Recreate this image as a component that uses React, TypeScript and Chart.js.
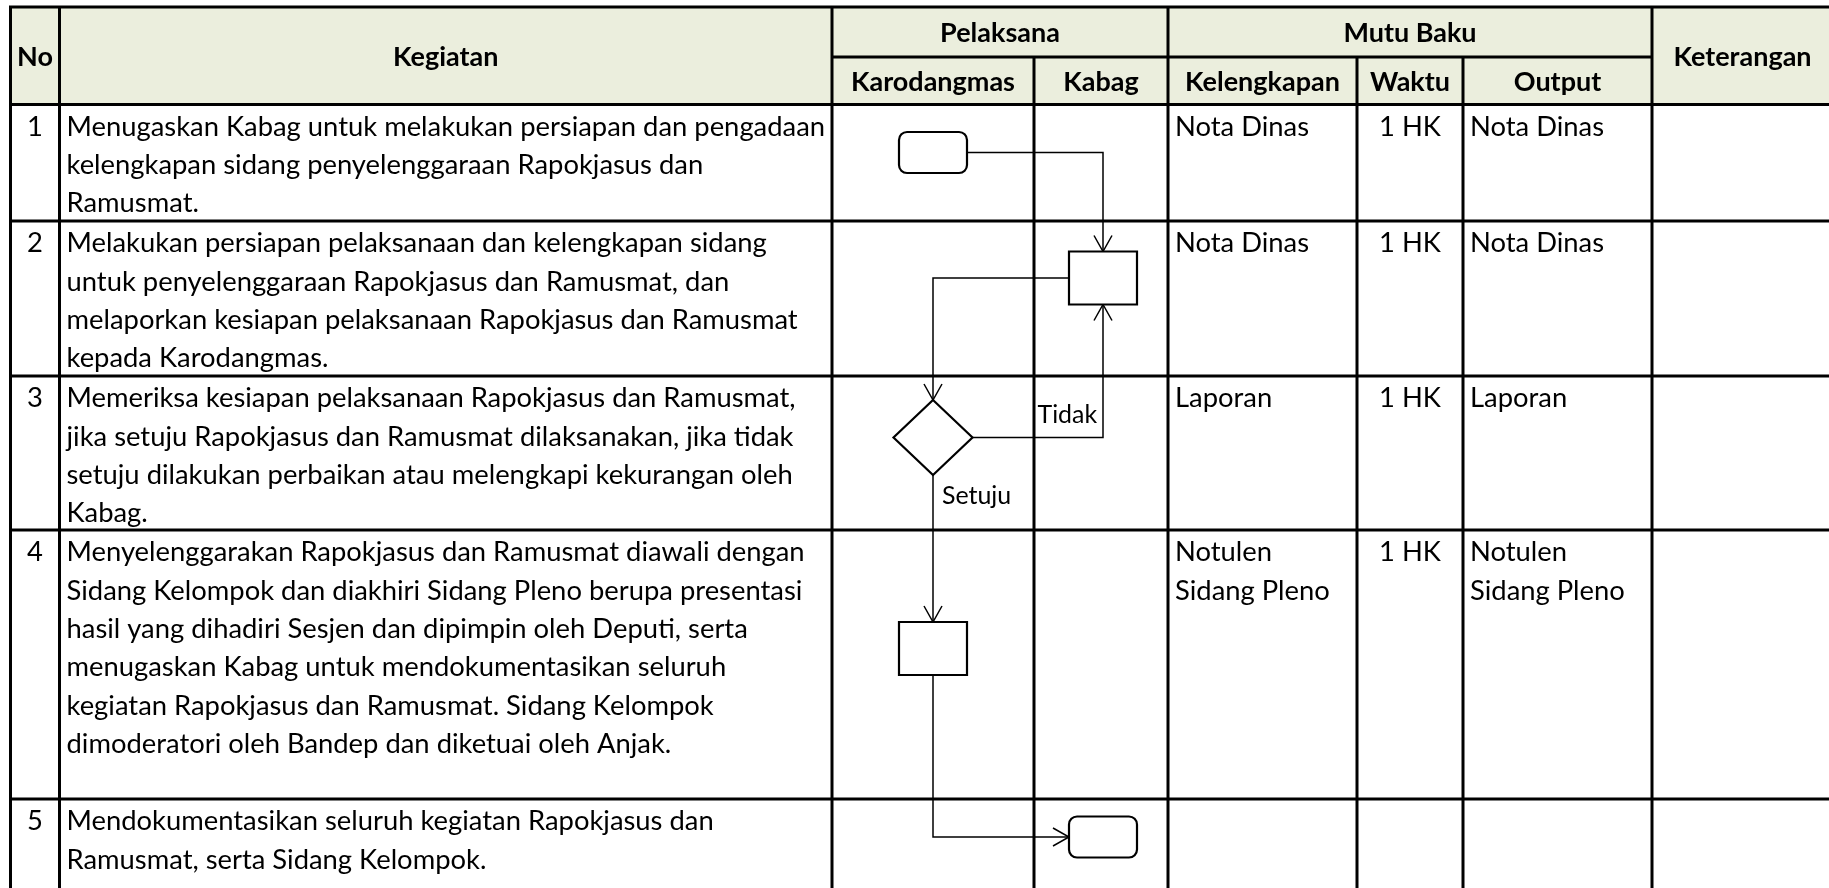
import React, { useEffect, useRef } from 'react';
import { Chart, registerables } from 'chart.js';

Chart.register(...registerables);

// ---------------- DATA ----------------
const HEADER_SINGLE = ['No', 'Kegiatan', 'Keterangan'];
const HEADER_GROUPS = ['Pelaksana', 'Mutu Baku'];
const HEADER_SUB = ['Karodangmas', 'Kabag', 'Kelengkapan', 'Waktu', 'Output'];

const NO = ['1', '2', '3', '4', '5'];

const KEGIATAN: string[][] = [
  [
    'Menugaskan Kabag untuk melakukan persiapan dan pengadaan',
    'kelengkapan sidang penyelenggaraan Rapokjasus dan',
    'Ramusmat.',
  ],
  [
    'Melakukan persiapan pelaksanaan dan kelengkapan sidang',
    'untuk penyelenggaraan Rapokjasus dan Ramusmat, dan',
    'melaporkan kesiapan pelaksanaan Rapokjasus dan Ramusmat',
    'kepada Karodangmas.',
  ],
  [
    'Memeriksa kesiapan pelaksanaan Rapokjasus dan Ramusmat,',
    'jika setuju Rapokjasus dan Ramusmat dilaksanakan, jika tidak',
    'setuju dilakukan perbaikan atau melengkapi kekurangan oleh',
    'Kabag.',
  ],
  [
    'Menyelenggarakan Rapokjasus dan Ramusmat diawali dengan',
    'Sidang Kelompok dan diakhiri Sidang Pleno berupa presentasi',
    'hasil yang dihadiri Sesjen dan dipimpin oleh Deputi, serta',
    'menugaskan Kabag untuk mendokumentasikan seluruh',
    'kegiatan Rapokjasus dan Ramusmat. Sidang Kelompok',
    'dimoderatori oleh Bandep dan diketuai oleh Anjak.',
  ],
  [
    'Mendokumentasikan seluruh kegiatan Rapokjasus dan',
    'Ramusmat, serta Sidang Kelompok.',
  ],
];

const KELENGKAPAN: string[][] = [['Nota Dinas'], ['Nota Dinas'], ['Laporan'], ['Notulen', 'Sidang Pleno'], []];
const WAKTU = ['1 HK', '1 HK', '1 HK', '1 HK', ''];
const OUTPUT: string[][] = [['Nota Dinas'], ['Nota Dinas'], ['Laporan'], ['Notulen', 'Sidang Pleno'], []];
const KETERANGAN = ['', '', '', '', ''];

const FLOW_NODES = [
  { id: 'start', lane: 'Karodangmas', row: 0, shape: 'terminator' },
  { id: 'prep', lane: 'Kabag', row: 1, shape: 'process' },
  { id: 'check', lane: 'Karodangmas', row: 2, shape: 'decision' },
  { id: 'hold', lane: 'Karodangmas', row: 3, shape: 'process' },
  { id: 'end', lane: 'Kabag', row: 4, shape: 'terminator' },
];

const FLOW_EDGES = [
  { from: 'start', fromSide: 'right', to: 'prep', toSide: 'top', label: '' },
  { from: 'prep', fromSide: 'left', to: 'check', toSide: 'top', label: '' },
  { from: 'check', fromSide: 'right', to: 'prep', toSide: 'bottom', label: 'Tidak' },
  { from: 'check', fromSide: 'bottom', to: 'hold', toSide: 'top', label: 'Setuju' },
  { from: 'hold', fromSide: 'bottom', to: 'end', toSide: 'left', label: '' },
];

// ---------------- LAYOUT (table units) ----------------
const W = 1829;
const H = 888;
const COL_EDGES = [10.5, 59.5, 832, 1034, 1168, 1357, 1463, 1652, 1833];
const ROW_EDGES = [7, 104.5, 221, 376, 530, 799, 900];
const HEADER_SPLIT = 57;
const LINE_H = 38.3;
const FIRST_LINE = 22.5;
const PAD = 7;
const NODE_OFFSET = [48, 57, 61.5, 118.5, 38];
const LANE_SHIFT: Record<string, number> = { Karodangmas: 0, Kabag: 2 };
const SHAPE_SIZE: Record<string, [number, number]> = {
  terminator: [68, 41],
  process: [68, 53],
  decision: [79, 75],
};
const LABEL_OFFSET = [null, null, [65, -23], [9, 21], null] as (number[] | null)[];
const LABEL_SCALE = 0.91;

const HEADER_BG = '#EBEEDD';
const FONT = 'Lato, "Open Sans", sans-serif';

const laneCol: Record<string, number> = { Karodangmas: 2, Kabag: 3 };

const tablePlugin = {
  id: 'sopTable',
  afterDraw(chart: any) {
    const ctx: CanvasRenderingContext2D = chart.ctx;
    const xs = chart.scales.x;
    const ys = chart.scales.y;
    const X = (v: number) => xs.getPixelForValue(v);
    const Y = (v: number) => ys.getPixelForValue(v);

    // font fitting to approximate Calibri metrics
    ctx.save();
    ctx.font = `normal 100px ${FONT}`;
    const wBody = ctx.measureText('Menugaskan Kabag untuk melakukan persiapan dan pengadaan').width;
    const bodySize = (100 * 759) / wBody;
    ctx.font = `bold 100px ${FONT}`;
    const wBold = ctx.measureText('Karodangmas').width;
    const boldSize = (100 * 164) / wBold;
    const bodyFont = `normal ${bodySize.toFixed(2)}px ${FONT}`;
    const labelFont = `normal ${(bodySize * LABEL_SCALE).toFixed(2)}px ${FONT}`;
    const boldFont = `bold ${boldSize.toFixed(2)}px ${FONT}`;

    // background
    ctx.fillStyle = '#ffffff';
    ctx.fillRect(X(COL_EDGES[0]), Y(ROW_EDGES[0]), X(COL_EDGES[8]) - X(COL_EDGES[0]), Y(ROW_EDGES[6]) - Y(ROW_EDGES[0]));
    ctx.fillStyle = HEADER_BG;
    ctx.fillRect(X(COL_EDGES[0]), Y(ROW_EDGES[0]), X(COL_EDGES[8]) - X(COL_EDGES[0]), Y(ROW_EDGES[1]) - Y(ROW_EDGES[0]));

    // header text
    ctx.fillStyle = '#000';
    ctx.font = boldFont;
    ctx.textAlign = 'center';
    ctx.textBaseline = 'middle';
    const hMid = (a: number, b: number) => (Y(a) + Y(b)) / 2 + 1.5;
    const cMid = (a: number, b: number) => (X(COL_EDGES[a]) + X(COL_EDGES[b])) / 2;
    ctx.fillText(HEADER_SINGLE[0], cMid(0, 1), hMid(ROW_EDGES[0], ROW_EDGES[1]));
    ctx.fillText(HEADER_SINGLE[1], cMid(1, 2), hMid(ROW_EDGES[0], ROW_EDGES[1]));
    ctx.fillText(HEADER_SINGLE[2], cMid(7, 8), hMid(ROW_EDGES[0], ROW_EDGES[1]));
    ctx.fillText(HEADER_GROUPS[0], cMid(2, 4), hMid(ROW_EDGES[0], HEADER_SPLIT));
    ctx.fillText(HEADER_GROUPS[1], cMid(4, 7), hMid(ROW_EDGES[0], HEADER_SPLIT));
    HEADER_SUB.forEach((t, i) => {
      ctx.fillText(t, cMid(2 + i, 3 + i), hMid(HEADER_SPLIT, ROW_EDGES[1]));
    });

    // body text
    ctx.font = bodyFont;
    const lineY = (r: number, i: number) => Y(ROW_EDGES[r + 1] + FIRST_LINE + i * LINE_H);
    for (let r = 0; r < NO.length; r++) {
      ctx.textAlign = 'center';
      ctx.fillText(NO[r], cMid(0, 1), lineY(r, 0));
      ctx.fillText(WAKTU[r], cMid(5, 6), lineY(r, 0));
      ctx.textAlign = 'left';
      KEGIATAN[r].forEach((t, i) => ctx.fillText(t, X(COL_EDGES[1] + PAD), lineY(r, i)));
      KELENGKAPAN[r].forEach((t, i) => ctx.fillText(t, X(COL_EDGES[4] + PAD), lineY(r, i)));
      OUTPUT[r].forEach((t, i) => ctx.fillText(t, X(COL_EDGES[6] + PAD), lineY(r, i)));
      if (KETERANGAN[r]) ctx.fillText(KETERANGAN[r], X(COL_EDGES[7] + PAD), lineY(r, 0));
    }

    // grid
    ctx.strokeStyle = '#000';
    ctx.lineWidth = 3;
    ctx.lineCap = 'square';
    const fullV = [0, 1, 2, 4, 7, 8];
    const partV = [3, 5, 6];
    ctx.beginPath();
    fullV.forEach((c) => {
      ctx.moveTo(X(COL_EDGES[c]), Y(ROW_EDGES[0]));
      ctx.lineTo(X(COL_EDGES[c]), Y(ROW_EDGES[6]));
    });
    partV.forEach((c) => {
      ctx.moveTo(X(COL_EDGES[c]), Y(HEADER_SPLIT));
      ctx.lineTo(X(COL_EDGES[c]), Y(ROW_EDGES[6]));
    });
    ROW_EDGES.forEach((r) => {
      ctx.moveTo(X(COL_EDGES[0]), Y(r));
      ctx.lineTo(X(COL_EDGES[8]), Y(r));
    });
    ctx.moveTo(X(COL_EDGES[2]), Y(HEADER_SPLIT));
    ctx.lineTo(X(COL_EDGES[7]), Y(HEADER_SPLIT));
    ctx.stroke();

    // flowchart
    const nodeGeom: Record<string, any> = {};
    FLOW_NODES.forEach((n) => {
      const c = laneCol[n.lane];
      const cx = (COL_EDGES[c] + COL_EDGES[c + 1]) / 2 + LANE_SHIFT[n.lane];
      const cy = ROW_EDGES[n.row + 1] + NODE_OFFSET[n.row];
      const [w, h] = SHAPE_SIZE[n.shape];
      nodeGeom[n.id] = { cx, cy, hw: w / 2, hh: h / 2, shape: n.shape };
    });
    const port = (id: string, side: string) => {
      const g = nodeGeom[id];
      if (side === 'left') return { x: g.cx - g.hw, y: g.cy };
      if (side === 'right') return { x: g.cx + g.hw, y: g.cy };
      if (side === 'top') return { x: g.cx, y: g.cy - g.hh };
      return { x: g.cx, y: g.cy + g.hh };
    };

    ctx.lineWidth = 1.5;
    ctx.lineCap = 'butt';
    ctx.lineJoin = 'miter';
    FLOW_EDGES.forEach((e, k) => {
      const a = port(e.from, e.fromSide);
      const b = port(e.to, e.toSide);
      const hf = e.fromSide === 'left' || e.fromSide === 'right';
      const ht = e.toSide === 'left' || e.toSide === 'right';
      let pts: { x: number; y: number }[];
      if (hf && !ht) pts = [a, { x: b.x, y: a.y }, b];
      else if (!hf && ht) pts = [a, { x: a.x, y: b.y }, b];
      else pts = [a, b];
      ctx.beginPath();
      ctx.moveTo(X(pts[0].x), Y(pts[0].y));
      for (let i = 1; i < pts.length; i++) ctx.lineTo(X(pts[i].x), Y(pts[i].y));
      ctx.stroke();
      // arrow head (open V)
      const p = pts[pts.length - 2];
      const tx = X(b.x), ty = Y(b.y);
      const dx = tx - X(p.x), dy = ty - Y(p.y);
      const len = Math.hypot(dx, dy) || 1;
      const ux = dx / len, uy = dy / len;
      const L = 16, S = 9;
      ctx.beginPath();
      ctx.moveTo(tx - ux * L - uy * S, ty - uy * L + ux * S);
      ctx.lineTo(tx, ty);
      ctx.lineTo(tx - ux * L + uy * S, ty - uy * L - ux * S);
      ctx.stroke();
      // label
      const off = LABEL_OFFSET[k];
      if (e.label && off) {
        ctx.font = labelFont;
        ctx.textAlign = 'left';
        ctx.textBaseline = 'middle';
        ctx.fillText(e.label, X(a.x + off[0]), Y(a.y + off[1]));
      }
    });

    ctx.lineWidth = 2.2;
    FLOW_NODES.forEach((n) => {
      const g = nodeGeom[n.id];
      const l = X(g.cx - g.hw), r = X(g.cx + g.hw), t = Y(g.cy - g.hh), b = Y(g.cy + g.hh);
      const cx = X(g.cx), cy = Y(g.cy);
      ctx.beginPath();
      if (g.shape === 'terminator') {
        (ctx as any).roundRect(l, t, r - l, b - t, 8);
      } else if (g.shape === 'process') {
        ctx.rect(l, t, r - l, b - t);
      } else {
        ctx.moveTo(cx, t);
        ctx.lineTo(r, cy);
        ctx.lineTo(cx, b);
        ctx.lineTo(l, cy);
        ctx.closePath();
      }
      ctx.fillStyle = '#ffffff';
      ctx.fill();
      ctx.stroke();
    });
    ctx.restore();
  },
};

export default function App() {
  const ref = useRef<HTMLCanvasElement>(null);
  useEffect(() => {
    if (!ref.current) return;
    const chart = new Chart(ref.current, {
      type: 'scatter',
      data: { datasets: [{ data: [] }] },
      options: {
        animation: false,
        responsive: false,
        devicePixelRatio: 1,
        events: [],
        layout: { padding: 0 },
        plugins: { legend: { display: false }, tooltip: { enabled: false } },
        scales: {
          x: { type: 'linear', min: 0, max: W, display: false },
          y: { type: 'linear', min: 0, max: H, reverse: true, display: false },
        },
      },
      plugins: [tablePlugin],
    } as any);
    return () => chart.destroy();
  }, []);
  return (
    <div style={{ position: 'fixed', left: 0, top: 0, width: W, height: H, background: '#fff', overflow: 'hidden' }}>
      <canvas ref={ref} width={W} height={H} style={{ display: 'block', width: W, height: H }} />
    </div>
  );
}
